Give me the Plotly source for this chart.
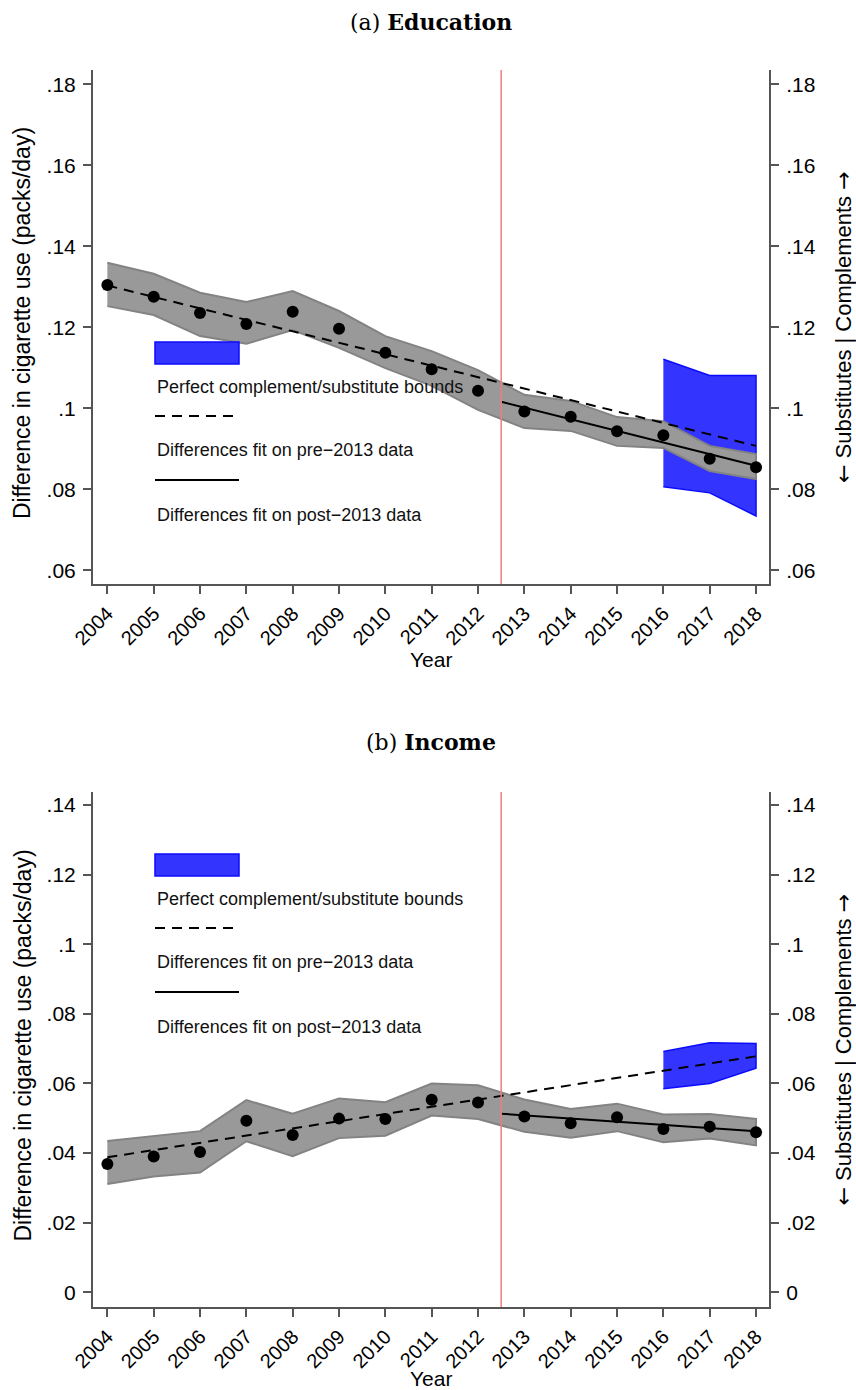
import plotly.graph_objects as go

W, H = 856, 1390

years = list(range(2004, 2019))
year_labels = [str(y) for y in years]

# ---- Panel (a) Education ----
edu_diff = [.1304, .1275, .1235, .1208, .1238, .1196, .1137, .1096, .1043,
            .0992, .0979, .0943, .0933, .0875, .0854]
edu_upper = [.1359, .1332, .1285, .1262, .1289, .1240, .1178, .1141, .1094,
             .1033, .1018, .0978, .0968, .0907, .0887]
edu_lower = [.1252, .1230, .1178, .1159, .1193, .1149, .1099, .1055, .0996,
             .0951, .0944, .0907, .0902, .0845, .0825]
edu_bound_years = [2016, 2017, 2018]
edu_bound_upper = [.1121, .1081, .1081]
edu_bound_lower = [.0806, .0791, .0734]
edu_pre_fit_x = [2004, 2018]
edu_pre_fit_y = [.1303, .0907]
edu_post_fit_x = [2012.5, 2018]
edu_post_fit_y = [.1016, .0858]
edu_ticks = [.06, .08, .10, .12, .14, .16, .18]
edu_ticktext = [".06", ".08", ".1", ".12", ".14", ".16", ".18"]
edu_yrange = [.0566, .1835]

# ---- Panel (b) Income ----
inc_diff = [.0369, .0390, .0403, .0493, .0452, .0499, .0498, .0553, .0545,
            .0505, .0486, .0503, .0469, .0476, .0460]
inc_upper = [.0435, .0448, .0463, .0552, .0513, .0557, .0546, .0600, .0595,
             .0554, .0527, .0542, .0511, .0512, .0498]
inc_lower = [.0311, .0333, .0344, .0434, .0391, .0443, .0450, .0508, .0498,
             .0461, .0444, .0463, .0431, .0442, .0422]
inc_bound_years = [2016, 2017, 2018]
inc_bound_upper = [.0692, .0717, .0715]
inc_bound_lower = [.0585, .0600, .0644]
inc_pre_fit_x = [2004, 2018]
inc_pre_fit_y = [.0388, .0678]
inc_post_fit_x = [2012.5, 2018]
inc_post_fit_y = [.0513, .0463]
inc_ticks = [0, .02, .04, .06, .08, .10, .12, .14]
inc_ticktext = ["0", ".02", ".04", ".06", ".08", ".1", ".12", ".14"]
inc_yrange = [-.0042, .1437]

cutoff_year = 2012.5
xrange_ = [2003.69, 2018.28]

titles = ["(a) <b>Education</b>", "(b) <b>Income</b>"]
ytitle = "Difference in cigarette use (packs/day)"
ARROW_SPAN = '<span style="font-family:DejaVu Sans">{}</span>'
rtitle = (ARROW_SPAN.format("\u2190") + " Substitutes | Complements "
          + ARROW_SPAN.format("\u2192"))
legend_labels = ["Perfect complement/substitute bounds",
                 "Differences fit on pre\u22122013 data",
                 "Differences fit on post\u22122013 data"]

GRAY_FILL = "#999999"
GRAY_LINE = "#838383"
BLUE_FILL = "#3434FF"
BLUE_LINE = "#0B0BFF"
RED = "#F47C7C"
AXC = "#555555"
SANS = "Liberation Sans, Arial, Helvetica, sans-serif"
SERIF = "DejaVu Serif, serif"
YTICK_SIZE = 21
XTICK_SIZE = 20
TITLE_SIZE = 23

px_x = lambda p: p / W
px_y = lambda p: 1 - p / H

fig = go.Figure()

panels = [
    dict(diff=edu_diff, up=edu_upper, lo=edu_lower, by=edu_bound_years,
         bu=edu_bound_upper, bl=edu_bound_lower, px=edu_pre_fit_x, py=edu_pre_fit_y,
         qx=edu_post_fit_x, qy=edu_post_fit_y, ticks=edu_ticks, tt=edu_ticktext,
         yr=edu_yrange, top=70, bot=584, title_y=22, xtitle_y=660, leg_top=342),
    dict(diff=inc_diff, up=inc_upper, lo=inc_lower, by=inc_bound_years,
         bu=inc_bound_upper, bl=inc_bound_lower, px=inc_pre_fit_x, py=inc_pre_fit_y,
         qx=inc_post_fit_x, qy=inc_post_fit_y, ticks=inc_ticks, tt=inc_ticktext,
         yr=inc_yrange, top=792, bot=1307, title_y=742, xtitle_y=1378, leg_top=854),
]

left_px, right_px = 93, 769
shapes = []
annotations = []
layout_axes = {}

for i, p in enumerate(panels):
    xa = "x" if i == 0 else "x2"
    ya = "y" if i == 0 else "y3"
    yr_name = "y2" if i == 0 else "y4"
    xkey = "xaxis" if i == 0 else "xaxis2"
    ykey = "yaxis" if i == 0 else "yaxis3"
    yrkey = "yaxis2" if i == 0 else "yaxis4"

    # blue bounds band
    fig.add_trace(go.Scatter(
        x=p["by"] + p["by"][::-1], y=p["bu"] + p["bl"][::-1],
        fill="toself", fillcolor=BLUE_FILL, mode="lines",
        line=dict(color=BLUE_LINE, width=1.5), xaxis=xa, yaxis=ya,
        showlegend=False, hoverinfo="skip"))
    # gray CI band
    fig.add_trace(go.Scatter(
        x=years + years[::-1], y=p["up"] + p["lo"][::-1],
        fill="toself", fillcolor=GRAY_FILL, mode="lines",
        line=dict(color=GRAY_LINE, width=2), xaxis=xa, yaxis=ya,
        showlegend=False, hoverinfo="skip"))
    # fit lines
    fig.add_trace(go.Scatter(
        x=p["px"], y=p["py"], mode="lines",
        line=dict(color="black", width=2, dash="10px,7px"),
        xaxis=xa, yaxis=ya, showlegend=False))
    fig.add_trace(go.Scatter(
        x=p["qx"], y=p["qy"], mode="lines",
        line=dict(color="black", width=2),
        xaxis=xa, yaxis=ya, showlegend=False))
    # dots
    fig.add_trace(go.Scatter(
        x=years, y=p["diff"], mode="markers",
        marker=dict(color="black", size=12),
        xaxis=xa, yaxis=ya, showlegend=False))
    # invisible trace to activate right axis
    fig.add_trace(go.Scatter(
        x=[years[0]], y=[p["diff"][0]], mode="markers", marker=dict(opacity=0),
        xaxis=xa, yaxis=yr_name, showlegend=False, hoverinfo="skip"))

    dom_y = [px_y(p["bot"]), px_y(p["top"])]
    common = dict(ticks="outside", ticklen=8, tickwidth=1.5, tickcolor=AXC,
                  showline=True, linecolor=AXC, linewidth=2, showgrid=False,
                  zeroline=False, automargin=False)
    yfont = dict(family=SANS, size=YTICK_SIZE, color="black")
    layout_axes[xkey] = dict(
        domain=[px_x(left_px), px_x(right_px)], range=xrange_,
        anchor=ya, tickmode="array", tickvals=years, ticktext=year_labels,
        tickangle=-45, tickfont=dict(family=SANS, size=XTICK_SIZE, color="black"),
        **common)
    layout_axes[ykey] = dict(
        domain=dom_y, range=p["yr"], anchor=xa, tickmode="array",
        tickvals=p["ticks"], ticktext=p["tt"], ticklabelstandoff=3,
        tickfont=yfont, **common)
    layout_axes[yrkey] = dict(
        overlaying=ya, side="right", range=p["yr"], anchor=xa, tickmode="array",
        tickvals=p["ticks"], ticktext=p["tt"], ticklabelstandoff=3,
        tickfont=yfont, **common)

    # red vertical line
    shapes.append(dict(type="line", xref=xa, yref=f"{ya} domain",
                       x0=cutoff_year, x1=cutoff_year, y0=0, y1=1,
                       line=dict(color=RED, width=1.5), layer="above"))

    # titles
    annotations.append(dict(text=titles[i], x=px_x(431), y=px_y(p["title_y"]),
                            xref="paper", yref="paper", showarrow=False,
                            xanchor="center", yanchor="middle",
                            font=dict(family=SERIF, size=22, color="black")))
    annotations.append(dict(text="Year", x=px_x(431), y=px_y(p["xtitle_y"]),
                            xref="paper", yref="paper", showarrow=False,
                            xanchor="center", yanchor="middle",
                            font=dict(family=SANS, size=21, color="black")))
    mid = (p["top"] + p["bot"]) / 2
    annotations.append(dict(text=ytitle, x=px_x(22), y=px_y(mid - 4), textangle=-90,
                            xref="paper", yref="paper", showarrow=False,
                            xanchor="center", yanchor="middle",
                            font=dict(family=SANS, size=TITLE_SIZE, color="black")))
    annotations.append(dict(text=rtitle, x=px_x(843), y=px_y(mid), textangle=-90,
                            xref="paper", yref="paper", showarrow=False,
                            xanchor="center", yanchor="middle",
                            font=dict(family=SANS, size=TITLE_SIZE - 1, color="black")))

    # manual legend
    lt = p["leg_top"]
    shapes.append(dict(type="rect", xref="paper", yref="paper",
                       x0=px_x(155), x1=px_x(239), y0=px_y(lt + 22), y1=px_y(lt),
                       fillcolor=BLUE_FILL, line=dict(color=BLUE_LINE, width=1.5)))
    shapes.append(dict(type="line", xref="paper", yref="paper",
                       x0=px_x(155), x1=px_x(239), y0=px_y(lt + 74), y1=px_y(lt + 74),
                       line=dict(color="black", width=2, dash="10px,7px")))
    shapes.append(dict(type="line", xref="paper", yref="paper",
                       x0=px_x(155), x1=px_x(239), y0=px_y(lt + 138), y1=px_y(lt + 138),
                       line=dict(color="black", width=2)))
    for j, off in enumerate([45, 108, 173]):
        annotations.append(dict(text=legend_labels[j], x=px_x(155), y=px_y(lt + off),
                                xref="paper", yref="paper", showarrow=False,
                                xanchor="left", yanchor="middle",
                                font=dict(family=SANS, size=18, color="#111111")))

fig.update_layout(
    width=W, height=H, margin=dict(l=0, r=0, t=0, b=0, autoexpand=False),
    paper_bgcolor="white", plot_bgcolor="white", showlegend=False,
    shapes=shapes, annotations=annotations, **layout_axes)

fig.write_html("out.html", config={"displayModeBar": False},
               post_script="document.body.style.margin='0';document.body.style.padding='0';")
